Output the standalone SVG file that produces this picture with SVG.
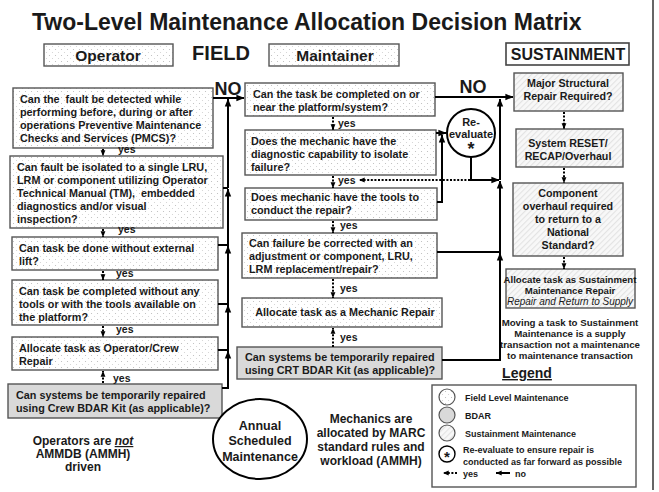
<svg xmlns="http://www.w3.org/2000/svg" width="659" height="492" viewBox="0 0 659 492">
<defs>
<pattern id="dots" width="6" height="6" patternUnits="userSpaceOnUse"><rect width="6" height="6" fill="#fff"/><circle cx="1.5" cy="1.5" r="0.55" fill="#b8b8b8"/><circle cx="4.5" cy="4.5" r="0.55" fill="#d0d0d0"/></pattern>
<pattern id="hatch" width="4" height="4" patternUnits="userSpaceOnUse" patternTransform="rotate(45)"><rect width="4" height="4" fill="#f8f8f8"/><rect width="1.1" height="4" fill="#e3e3e3"/></pattern>
<marker id="ah" viewBox="0 0 10 10" refX="9.5" refY="5" markerWidth="8" markerHeight="8" markerUnits="userSpaceOnUse" orient="auto"><path d="M0,1 L10,5 L0,9 z" fill="#000"/></marker>
<marker id="ahs" viewBox="0 0 10 10" refX="9.5" refY="5" markerWidth="6" markerHeight="6" markerUnits="userSpaceOnUse" orient="auto"><path d="M0,1 L10,5 L0,9 z" fill="#000"/></marker>
<style>
.box{stroke:#555;stroke-width:1.4;fill:url(#dots)}
.bdar{stroke:#555;stroke-width:1.4;fill:#d9d9d9}
.sus{stroke:#555;stroke-width:1.4;fill:url(#hatch)}
.hdr{stroke:#555;stroke-width:1.4;fill:url(#dots)}
text{font-family:"Liberation Sans",Arial,sans-serif;font-weight:bold;fill:#1a1a1a}
.t{font-size:10.8px}
.s{font-size:10.7px}
.m{font-size:12px;text-anchor:middle}
.lg{font-size:9px}
.yl{font-size:10.5px}
.it{font-weight:normal;font-style:italic}
.no{stroke:#000;stroke-width:2;fill:none}
.yes{stroke:#000;stroke-width:2;stroke-dasharray:2 1.6;fill:none}
.mid{text-anchor:middle}
</style>
</defs>

<text x="32" y="30" font-size="23" fill="#000">Two-Level Maintenance Allocation Decision Matrix</text>
<line x1="653" y1="0" x2="653" y2="490" stroke="#333" stroke-width="1.5"/>

<g id="hdr-operator"><rect class="hdr" x="44" y="44" width="129" height="22"/><text x="108" y="61" font-size="15.5" class="mid">Operator</text></g>
<g id="hdr-field"><text x="221" y="60" font-size="20" class="mid">FIELD</text></g>
<g id="hdr-maintainer"><rect class="hdr" x="269" y="44" width="130" height="22"/><text x="335" y="61" font-size="15.5" class="mid">Maintainer</text></g>
<g id="hdr-sustainment"><rect x="506" y="43" width="123" height="22" fill="#fff" stroke="#444" stroke-width="1.6"/><text x="568" y="60" font-size="16" class="mid">SUSTAINMENT</text></g>

<g id="op-detect"><rect class="box" x="13" y="88" width="200" height="60"/>
<text class="t" x="20" y="103" xml:space="preserve">Can the  fault be detected while</text>
<text class="t" x="20" y="116">performing before, during or after</text>
<text class="t" x="20" y="129">operations Preventive Maintenance</text>
<text class="t" x="20" y="142">Checks and Services (PMCS)?</text></g>

<g id="op-isolate"><rect class="box" x="10" y="156" width="213" height="72"/>
<text class="t" x="17" y="171">Can fault be isolated to a single LRU,</text>
<text class="t" x="17" y="184">LRM or component utilizing Operator</text>
<text class="t" x="17" y="197" xml:space="preserve">Technical Manual (TM),  embedded</text>
<text class="t" x="17" y="210">diagnostics and/or visual</text>
<text class="t" x="17" y="223">inspection?</text></g>

<g id="op-lift"><rect class="box" x="12" y="237" width="206" height="33"/>
<text class="t" x="19" y="252">Can task be done without external</text>
<text class="t" x="19" y="265">lift?</text></g>

<g id="op-tools"><rect class="box" x="12" y="280" width="206" height="45"/>
<text class="t" x="19" y="295">Can task be completed without any</text>
<text class="t" x="19" y="308">tools or with the tools available on</text>
<text class="t" x="19" y="321">the platform?</text></g>

<g id="op-allocate"><rect class="box" x="12" y="337" width="206" height="33"/>
<text class="t" x="19" y="352">Allocate task as Operator/Crew</text>
<text class="t" x="19" y="365">Repair</text></g>

<g id="op-bdar"><rect class="bdar" x="8" y="384" width="214" height="34"/>
<text class="t" x="16" y="399">Can systems be temporarily repaired</text>
<text class="t" x="16" y="412">using Crew BDAR Kit (as applicable)?</text></g>

<g id="op-note">
<text class="m" x="83" y="445">Operators are <tspan font-style="italic" text-decoration="underline">not</tspan></text>
<text class="m" x="83" y="458">AMMDB (AMMH)</text>
<text class="m" x="83" y="471">driven</text></g>

<g id="mt-near"><rect class="box" x="245" y="83" width="190" height="33"/>
<text class="t" x="253" y="98">Can the task be completed on or</text>
<text class="t" x="253" y="111">near the platform/system?</text></g>

<g id="mt-diag"><rect class="box" x="245" y="130" width="191" height="45"/>
<text class="t" x="251" y="145">Does the mechanic have the</text>
<text class="t" x="251" y="158">diagnostic capability to isolate</text>
<text class="t" x="251" y="171">failure?</text></g>

<g id="mt-tools"><rect class="box" x="245" y="188" width="192" height="32"/>
<text class="t" x="251" y="201">Does mechanic have the tools to</text>
<text class="t" x="251" y="214">conduct the repair?</text></g>

<g id="mt-correct"><rect class="box" x="242" y="233" width="195" height="45"/>
<text class="t" x="249" y="247">Can failure be corrected with an</text>
<text class="t" x="249" y="260">adjustment or component, LRU,</text>
<text class="t" x="249" y="273">LRM replacement/repair?</text></g>

<g id="mt-allocate"><rect class="box" x="242" y="298" width="200" height="29"/>
<text class="t mid" x="345" y="316">Allocate task as a Mechanic Repair</text></g>

<g id="mt-bdar"><rect class="bdar" x="237" y="347" width="205" height="32"/>
<text class="t" x="245" y="361">Can systems be temporarily repaired</text>
<text class="t" x="245" y="374">using CRT BDAR Kit (as applicable)?</text></g>

<g id="reevaluate"><circle cx="471" cy="133" r="24" fill="#fff" stroke="#000" stroke-width="2"/>
<text x="471" y="126" font-size="11" class="mid">Re-</text>
<text x="471" y="138" font-size="11" class="mid">evaluate</text>
<text x="471" y="155" font-size="18" class="mid">*</text></g>

<g id="annual"><ellipse cx="260" cy="439" rx="47" ry="40" fill="#fff" stroke="#000" stroke-width="2"/>
<text x="260" y="430" font-size="12.5" class="mid">Annual</text>
<text x="260" y="445" font-size="12.5" class="mid">Scheduled</text>
<text x="260" y="461" font-size="12.5" class="mid">Maintenance</text></g>

<g id="mt-note">
<text class="m" x="371" y="423">Mechanics are</text>
<text class="m" x="371" y="437">allocated by MARC</text>
<text class="m" x="371" y="451">standard rules and</text>
<text class="m" x="371" y="465">workload (AMMH)</text></g>

<g id="su-major"><rect class="sus" x="514" y="73" width="109" height="38"/>
<text class="s mid" x="568" y="87">Major Structural</text>
<text class="s mid" x="568" y="100">Repair Required?</text></g>

<g id="su-reset"><rect class="sus" x="516" y="129" width="107" height="38"/>
<text class="s mid" x="568" y="147">System RESET/</text>
<text class="s mid" x="568" y="160">RECAP/Overhaul</text></g>

<g id="su-component"><rect class="sus" x="513" y="183" width="110" height="73"/>
<text class="s mid" x="568" y="197">Component</text>
<text class="s mid" x="568" y="210">overhaul required</text>
<text class="s mid" x="568" y="223">to return to a</text>
<text class="s mid" x="568" y="236">National</text>
<text class="s mid" x="568" y="249">Standard?</text></g>

<g id="su-allocate"><rect class="sus" x="506" y="269" width="129" height="39"/>
<text x="570" y="283" font-size="9.6" class="mid">Allocate task as Sustainment</text>
<text x="570" y="294" font-size="9.6" class="mid">Maintenance Repair</text>
<text x="570" y="305" font-size="10" class="mid it">Repair and Return to Supply</text></g>

<g id="su-note">
<text x="570" y="326" font-size="9.7" class="mid">Moving a task to Sustainment</text>
<text x="570" y="337" font-size="9.7" class="mid">Maintenance is a supply</text>
<text x="570" y="348" font-size="9.7" class="mid">transaction not a maintenance</text>
<text x="570" y="359" font-size="9.7" class="mid">to maintenance transaction</text></g>

<g id="legend">
<text x="527" y="378" font-size="14" class="mid" text-decoration="underline">Legend</text>
<rect x="432" y="385" width="204" height="102" fill="#fff" stroke="#555" stroke-width="1.4"/>
<circle cx="447" cy="397" r="8" fill="url(#dots)" stroke="#555" stroke-width="1.2"/>
<text class="lg" x="465" y="401">Field Level Maintenance</text>
<circle cx="447" cy="415" r="8" fill="#d9d9d9" stroke="#555" stroke-width="1.2"/>
<text class="lg" x="465" y="419">BDAR</text>
<circle cx="447" cy="433" r="8" fill="url(#hatch)" stroke="#555" stroke-width="1.2"/>
<text class="lg" x="465" y="437">Sustainment Maintenance</text>
<circle cx="447" cy="454" r="8" fill="#fff" stroke="#000" stroke-width="1.4"/>
<text x="447" y="462" font-size="15" class="mid">*</text>
<text class="lg" x="463" y="453">Re-evaluate to ensure repair is</text>
<text class="lg" x="463" y="465">conducted as far forward as possible</text>
<path class="yes" d="M457,473 H443" stroke-width="1.6" marker-end="url(#ahs)"/>
<text class="lg" x="463" y="477">yes</text>
<path class="no" d="M510,473 H496" stroke-width="1.6" marker-end="url(#ahs)"/>
<text class="lg" x="515" y="477">no</text>
</g>

<g id="connectors">
<text x="228" y="95" font-size="18" class="mid">NO</text>
<text x="473" y="93" font-size="18" class="mid">NO</text>
<path class="no" d="M213,98 H244" marker-end="url(#ah)"/>
<path class="no" d="M228,188 V99" marker-end="url(#ah)"/>
<path class="no" d="M223,188 H228"/>
<path class="no" d="M218,245 H228 V189" marker-end="url(#ah)"/>
<path class="no" d="M218,304 H228 V246" marker-end="url(#ah)"/>
<path class="no" d="M218,350 H228 V305" marker-end="url(#ah)"/>
<path class="no" d="M222,388 H228 V351" marker-end="url(#ah)"/>

<path class="no" d="M435,97 H513" marker-end="url(#ah)"/>
<path class="no" d="M436,133 H446" marker-end="url(#ah)"/>
<path class="no" d="M437,202 H442 V135" marker-end="url(#ah)"/>
<path class="no" d="M471,157 V180 H499" marker-end="url(#ah)"/>
<path class="no" d="M500,180 V99" marker-end="url(#ah)"/>
<path class="no" d="M437,252 H500 V181" marker-end="url(#ah)"/>
<path class="no" d="M442,360 H500 V253" marker-end="url(#ah)"/>
<path class="yes" d="M470,180 H359" marker-end="url(#ahs)"/>

<path class="yes" d="M103,149 V156" marker-end="url(#ahs)"/>
<path class="yes" d="M103,229 V237" marker-end="url(#ahs)"/>
<path class="yes" d="M103,271 V280" marker-end="url(#ahs)"/>
<path class="yes" d="M103,326 V337" marker-end="url(#ahs)"/>
<path class="yes" d="M103,383 V371" marker-end="url(#ahs)"/>
<text class="yl" x="118" y="153">yes</text>
<text class="yl" x="118" y="233">yes</text>
<text class="yl" x="116" y="277">yes</text>
<text class="yl" x="116" y="333">yes</text>
<text class="yl" x="113" y="382">yes</text>

<path class="yes" d="M333,117 V130" marker-end="url(#ahs)"/>
<path class="yes" d="M333,176 V188" marker-end="url(#ahs)"/>
<path class="yes" d="M333,221 V233" marker-end="url(#ahs)"/>
<path class="yes" d="M333,279 V298" marker-end="url(#ahs)"/>
<path class="yes" d="M333,347 V328" marker-end="url(#ahs)"/>
<text class="yl" x="338" y="127">yes</text>
<text class="yl" x="338" y="184">yes</text>
<text class="yl" x="340" y="229">yes</text>
<text class="yl" x="340" y="292">yes</text>
<text class="yl" x="340" y="341">yes</text>

<path class="yes" d="M564,112 V129" marker-end="url(#ahs)"/>
<path class="yes" d="M564,168 V183" marker-end="url(#ahs)"/>
<path class="yes" d="M564,257 V269" marker-end="url(#ahs)"/>
</g>
</svg>
